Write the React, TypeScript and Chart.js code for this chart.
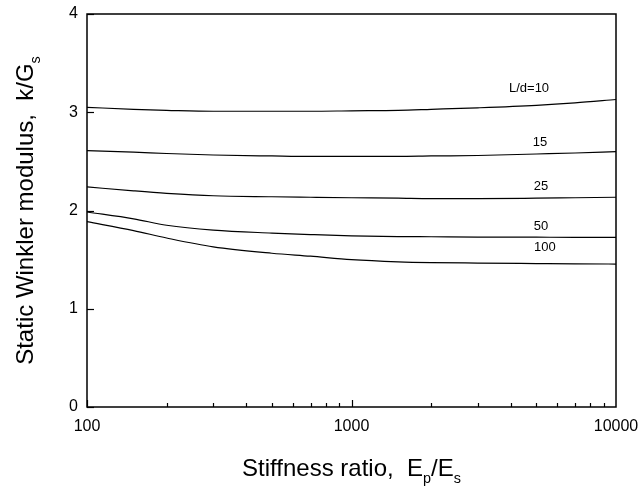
import React, { useEffect, useRef } from "react";
import { Chart, registerables } from "chart.js";

Chart.register(...registerables);

const X_VALUES = [100, 150, 200, 300, 500, 700, 1000, 1500, 2000, 3000, 5000, 7000, 10000];
const LD10 = [3.05, 3.03, 3.02, 3.01, 3.01, 3.01, 3.015, 3.02, 3.03, 3.045, 3.07, 3.095, 3.13];
const LD15 = [2.61, 2.595, 2.58, 2.565, 2.555, 2.55, 2.55, 2.55, 2.555, 2.56, 2.575, 2.585, 2.6];
const LD25 = [2.24, 2.2, 2.175, 2.15, 2.14, 2.135, 2.13, 2.125, 2.12, 2.12, 2.125, 2.13, 2.135];
const LD50 = [1.985, 1.915, 1.85, 1.8, 1.77, 1.755, 1.742, 1.735, 1.733, 1.73, 1.728, 1.727, 1.727];
const LD100 = [1.886, 1.795, 1.72, 1.63, 1.565, 1.535, 1.5, 1.478, 1.47, 1.465, 1.46, 1.457, 1.455];

const CURVE_LABELS = ["L/d=10", "15", "25", "50", "100"];
const CURVE_LABEL_X = [4690, 5160, 5200, 5200, 5380];
const CURVE_LABEL_Y = [3.24, 2.69, 2.24, 1.84, 1.62];

const X_TICKS = [100, 1000, 10000];
const Y_TICKS = [0, 1, 2, 3, 4];

const FONT = 'Arial, "Liberation Sans", sans-serif';

function drawSubText(ctx: CanvasRenderingContext2D, parts: [string, boolean][], size: number, x: number, y: number) {
  const subSize = size * 0.6;
  let total = 0;
  for (const [t, sub] of parts) {
    ctx.font = `${sub ? subSize : size}px ${FONT}`;
    total += ctx.measureText(t).width;
  }
  let cx = x - total / 2;
  ctx.textAlign = "left";
  ctx.textBaseline = "alphabetic";
  for (const [t, sub] of parts) {
    ctx.font = `${sub ? subSize : size}px ${FONT}`;
    ctx.fillText(t, cx, sub ? y + size * 0.28 : y);
    cx += ctx.measureText(t).width;
  }
}

const framePlugin = {
  id: "framePlugin",
  afterDraw(chart: any) {
    const ctx: CanvasRenderingContext2D = chart.ctx;
    const { left, right, top, bottom } = chart.chartArea;
    const xs = chart.scales.x;
    const ys = chart.scales.y;
    ctx.save();
    ctx.strokeStyle = "#000";
    ctx.lineWidth = 1.5;
    ctx.strokeRect(left, top, right - left, bottom - top);
    ctx.lineWidth = 1.2;
    for (const d of [100, 1000]) {
      for (let m = 1; m <= 9; m++) {
        const v = d * m;
        const px = Math.round(xs.getPixelForValue(v)) + 0.5;
        const len = m === 1 ? 7 : 4;
        ctx.beginPath();
        ctx.moveTo(px, bottom);
        ctx.lineTo(px, bottom - len);
        ctx.stroke();
      }
    }
    for (const v of Y_TICKS) {
      const py = Math.round(ys.getPixelForValue(v)) + 0.5;
      ctx.beginPath();
      ctx.moveTo(left, py);
      ctx.lineTo(left + 7, py);
      ctx.stroke();
    }
    ctx.fillStyle = "#000";
    ctx.font = `13px ${FONT}`;
    ctx.textAlign = "center";
    ctx.textBaseline = "middle";
    CURVE_LABELS.forEach((t, i) => {
      ctx.fillText(t, xs.getPixelForValue(CURVE_LABEL_X[i]), ys.getPixelForValue(CURVE_LABEL_Y[i]));
    });
    drawSubText(
      ctx,
      [["Stiffness ratio,  E", false], ["p", true], ["/E", false], ["s", true]],
      24,
      (left + right) / 2,
      476
    );
    ctx.save();
    ctx.translate(33, (top + bottom) / 2);
    ctx.rotate(-Math.PI / 2);
    drawSubText(ctx, [["Static Winkler modulus,  k/G", false], ["s", true]], 24, 0, 0);
    ctx.restore();
    ctx.restore();
  },
};

export default function App() {
  const ref = useRef<HTMLCanvasElement>(null);
  useEffect(() => {
    if (!ref.current) return;
    const mk = (vals: number[]) => ({
      data: X_VALUES.map((x, i) => ({ x, y: vals[i] })),
      borderColor: "#000",
      borderWidth: 1.2,
      pointRadius: 0,
      fill: false,
      cubicInterpolationMode: "monotone" as const,
    });
    const chart = new Chart(ref.current, {
      type: "line",
      data: {
        datasets: [mk(LD10), mk(LD15), mk(LD25), mk(LD50), mk(LD100)],
      },
      options: {
        animation: false,
        responsive: false,
        events: [],
        layout: { padding: { left: 0, top: 14, right: 25, bottom: 0 } },
        plugins: { legend: { display: false }, tooltip: { enabled: false } },
        scales: {
          x: {
            type: "logarithmic",
            min: 100,
            max: 10000,
            grid: { display: false, drawTicks: false },
            border: { display: false },
            afterBuildTicks: (s: any) => {
              s.ticks = X_TICKS.map((v) => ({ value: v }));
            },
            afterFit: (s: any) => {
              s.height = 86;
              s.paddingLeft = 0;
              s.paddingRight = 0;
            },
            ticks: {
              autoSkip: false,
              maxRotation: 0,
              padding: 10,
              color: "#000",
              font: { family: FONT, size: 16 },
              callback: (v: any) => String(v),
            },
          },
          y: {
            type: "linear",
            min: 0,
            max: 4,
            grid: { display: false, drawTicks: false },
            border: { display: false },
            afterBuildTicks: (s: any) => {
              s.ticks = Y_TICKS.map((v) => ({ value: v }));
            },
            afterFit: (s: any) => {
              s.width = 87;
              s.paddingTop = 0;
              s.paddingBottom = 0;
            },
            ticks: {
              padding: 9,
              color: "#000",
              font: { family: FONT, size: 16 },
              callback: (v: any) => String(v),
            },
          },
        },
      },
      plugins: [framePlugin],
    });
    return () => chart.destroy();
  }, []);
  return (
    <div style={{ position: "fixed", left: 0, top: 0, width: 641, height: 493, background: "#fff" }}>
      <canvas ref={ref} width={641} height={493} />
    </div>
  );
}
